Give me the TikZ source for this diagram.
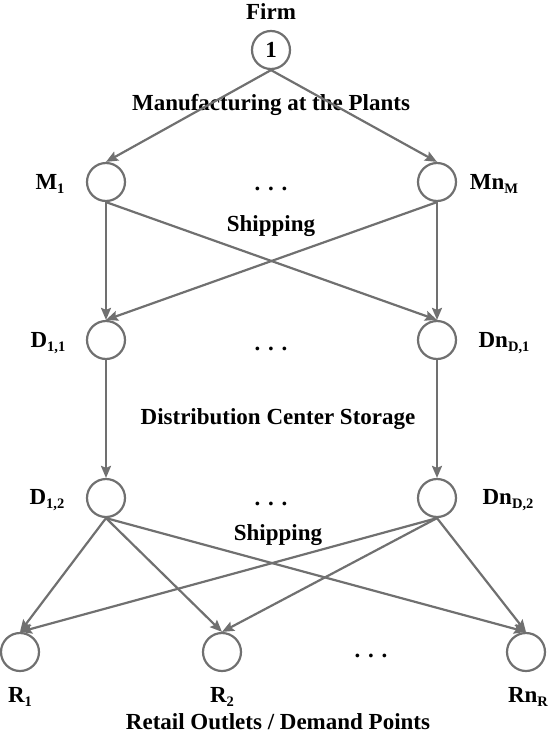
\documentclass[tikz,border=0pt]{standalone}
\usepackage{fontspec}
\setmainfont{Liberation Serif}
\usetikzlibrary{arrows.meta}
\definecolor{edgegray}{RGB}{112,112,112}
\newcommand\lsub[1]{\raisebox{-0.18em}{\fontsize{14.5}{14.5}\selectfont #1}}
\begin{document}
\begin{tikzpicture}[x=1pt,y=-1pt,
  nd/.style={circle,draw=edgegray,line width=2.2pt,minimum size=38pt,inner sep=0pt,font=\fontsize{23}{25}\selectfont\bfseries},
  lab/.style={font=\fontsize{23}{25}\selectfont\bfseries,inner sep=0pt,text=black},
  flow/.style={draw=edgegray,line width=2.2pt,-{Stealth[length=12pt,width=10pt,inset=2pt]}}
]
\useasboundingbox (0,0) rectangle (548,734);
% nodes
\node[nd] (F) at (271,50) {1};
\node[nd] (M1) at (106,182) {};
\node[nd] (MN) at (437,182) {};
\node[nd] (D11) at (106,340) {};
\node[nd] (DN1) at (437,340) {};
\node[nd] (D12) at (106,498) {};
\node[nd] (DN2) at (437,498) {};
\node[nd] (R1) at (20,652) {};
\node[nd] (R2) at (222,652) {};
\node[nd] (RN) at (526,652) {};
% labels
\node[lab] (tF) at (271,12) {Firm};
\node[lab] (tMan) at (271,105) {Manufacturing at the Plants};
\node[lab] (lM1) at (50,184) {M\lsub{1}};
\node[lab] (lMN) at (494,184) {Mn\lsub{M}};
\node[lab,anchor=base] (dM) at (271,190) {. . .};
\node[lab] (tS1) at (271,226) {Shipping};
\node[lab] (lD11) at (48,343) {D\lsub{1,1}};
\node[lab] (lDN1) at (504,343) {Dn\lsub{D,1}};
\node[lab,anchor=base] (dD1) at (271,350) {. . .};
\node[lab] (tDC) at (278,419) {Distribution Center Storage};
\node[lab] (lD12) at (47,500) {D\lsub{1,2}};
\node[lab] (lDN2) at (508,500) {Dn\lsub{D,2}};
\node[lab,anchor=base] (dD2) at (271,505) {. . .};
\node[lab] (tS2) at (278,535) {Shipping};
\node[lab,anchor=base] (dR) at (371,657) {. . .};
\node[lab] (lR1) at (20,697) {R\lsub{1}};
\node[lab] (lR2) at (222,697) {R\lsub{2}};
\node[lab] (lRN) at (528,697) {Rn\lsub{R}};
\node[lab] (tRO) at (278,722) {Retail Outlets / Demand Points};
% edges
\draw[flow] (F.south) -- (M1.north);
\draw[flow] (F.south) -- (MN.north);
\draw[flow] (M1.south) -- (D11.north);
\draw[flow] (M1.south) -- (DN1.north);
\draw[flow] (MN.south) -- (D11.north);
\draw[flow] (MN.south) -- (DN1.north);
\draw[flow] (D11.south) -- (D12.north);
\draw[flow] (DN1.south) -- (DN2.north);
\draw[flow] (D12.south) -- (R1.north);
\draw[flow] (D12.south) -- (R2.north);
\draw[flow] (D12.south) -- (RN.north);
\draw[flow] (DN2.south) -- (R1.north);
\draw[flow] (DN2.south) -- (R2.north);
\draw[flow] (DN2.south) -- (RN.north);
\end{tikzpicture}
\end{document}
